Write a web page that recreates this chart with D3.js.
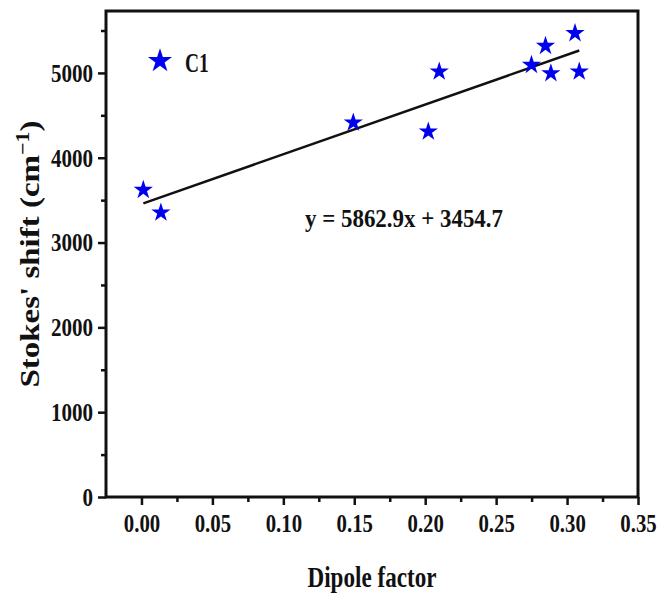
<!DOCTYPE html>
<html>
<head>
<meta charset="utf-8">
<script src="https://cdn.jsdelivr.net/npm/d3@7"></script>
<style>
  body { margin: 0; background: #fff; }
  text { font-family: "Liberation Serif", "Times New Roman", serif; font-weight: bold; fill: #111; }
</style>
</head>
<body>
<div id="chart"></div>
<script>
var svgWidth = 662;
var svgHeight = 597;

var margin = { top: 11, right: 24, bottom: 100, left: 106 };
var width = svgWidth - margin.left - margin.right;
var height = svgHeight - margin.top - margin.bottom;

// data
var dipole = [0.0013, 0.0137, 0.1493, 0.2022, 0.2099, 0.2749, 0.2848, 0.2886, 0.3056, 0.3086];
var stokes = [3620, 3353, 4414, 4308, 5015, 5094, 5318, 4996, 5468, 5015];
var fitSlope = 5862.9;
var fitIntercept = 3454.7;
var xTicks = [0, 0.05, 0.10, 0.15, 0.20, 0.25, 0.30, 0.35];
var yTicks = [0, 1000, 2000, 3000, 4000, 5000];
var seriesName = "C1";

// the reference text looks narrow, squeeze glyphs horizontally
function squeeze(sel, k) {
  sel.each(function() {
    var w = this.getComputedTextLength();
    d3.select(this)
      .attr("textLength", w * k)
      .attr("lengthAdjust", "spacingAndGlyphs");
  });
}

var svg = d3.select("#chart")
  .append("svg")
  .attr("width", svgWidth)
  .attr("height", svgHeight);

var chartGroup = svg.append("g")
  .attr("transform", `translate(${margin.left}, ${margin.top})`);

var xScale = d3.scaleLinear().domain([-0.025, 0.35]).range([0, width]);
var yScale = d3.scaleLinear().domain([0, 5730]).range([height, 0]);

// minor ticks
var xMinor = d3.range(0.025, 0.35, 0.05);
var yMinor = d3.range(500, 5730, 1000);

var bottomAxis = d3.axisBottom(xScale)
  .tickValues(xTicks)
  .tickFormat(d3.format(".2f"))
  .tickSize(8)
  .tickPadding(9);
var leftAxis = d3.axisLeft(yScale)
  .tickValues(yTicks)
  .tickFormat(d3.format("d"))
  .tickSize(8)
  .tickPadding(5);

var xAxis = chartGroup.append("g")
  .attr("transform", `translate(0, ${height})`)
  .call(bottomAxis);
var yAxis = chartGroup.append("g").call(leftAxis);

chartGroup.append("g")
  .attr("transform", `translate(0, ${height})`)
  .call(d3.axisBottom(xScale).tickValues(xMinor).tickSize(5).tickFormat(""));
chartGroup.append("g")
  .call(d3.axisLeft(yScale).tickValues(yMinor).tickSize(5).tickFormat(""));

chartGroup.selectAll(".domain").remove();
chartGroup.selectAll(".tick line").attr("stroke", "#111").attr("stroke-width", 2.5);
xAxis.selectAll("text").attr("font-size", "26px").call(squeeze, 0.8);
yAxis.selectAll("text").attr("font-size", "26px").call(squeeze, 0.81);

// frame
chartGroup.append("rect")
  .attr("width", width)
  .attr("height", height)
  .attr("fill", "none")
  .attr("stroke", "#111")
  .attr("stroke-width", 3);

// regression line
var x0 = d3.min(dipole), x1 = d3.max(dipole);
chartGroup.append("line")
  .attr("x1", xScale(x0))
  .attr("y1", yScale(fitSlope * x0 + fitIntercept))
  .attr("x2", xScale(x1))
  .attr("y2", yScale(fitSlope * x1 + fitIntercept))
  .attr("stroke", "#111")
  .attr("stroke-width", 2.5);

// stars
var points = dipole.map((d, i) => ({ x: d, y: stokes[i] }));
var star = d3.symbol().type(d3.symbolStar).size(115);
chartGroup.selectAll(".pt")
  .data(points)
  .enter()
  .append("path")
  .attr("d", star)
  .attr("transform", d => `translate(${xScale(d.x)}, ${yScale(d.y)})`)
  .attr("fill", "#0000ee");

// legend
chartGroup.append("path")
  .attr("d", d3.symbol().type(d3.symbolStar).size(180))
  .attr("transform", "translate(54, 50)")
  .attr("fill", "#0000ee");
chartGroup.append("text")
  .attr("x", 79)
  .attr("y", 61)
  .attr("font-size", "27px")
  .text(seriesName)
  .call(squeeze, 0.72);

// equation
chartGroup.append("text")
  .attr("x", 199)
  .attr("y", 216)
  .attr("font-size", "26px")
  .attr("textLength", 198)
  .attr("lengthAdjust", "spacingAndGlyphs")
  .text(`y = ${fitSlope}x + ${fitIntercept}`);

// axis titles
svg.append("text")
  .attr("x", margin.left + width / 2)
  .attr("y", 587)
  .attr("text-anchor", "middle")
  .attr("font-size", "30px")
  .text("Dipole factor")
  .call(squeeze, 0.77);

var yTitle = svg.append("text")
  .attr("transform", `translate(39, ${margin.top + height / 2}) rotate(-90) scale(1, 0.85)`)
  .attr("text-anchor", "middle")
  .attr("font-size", "33px");
yTitle.append("tspan").text("Stokes' shift (cm");
yTitle.append("tspan").attr("dy", -12).attr("font-size", "22px").text("−1");
yTitle.append("tspan").attr("dy", 12).text(")");
</script>
</body>
</html>
